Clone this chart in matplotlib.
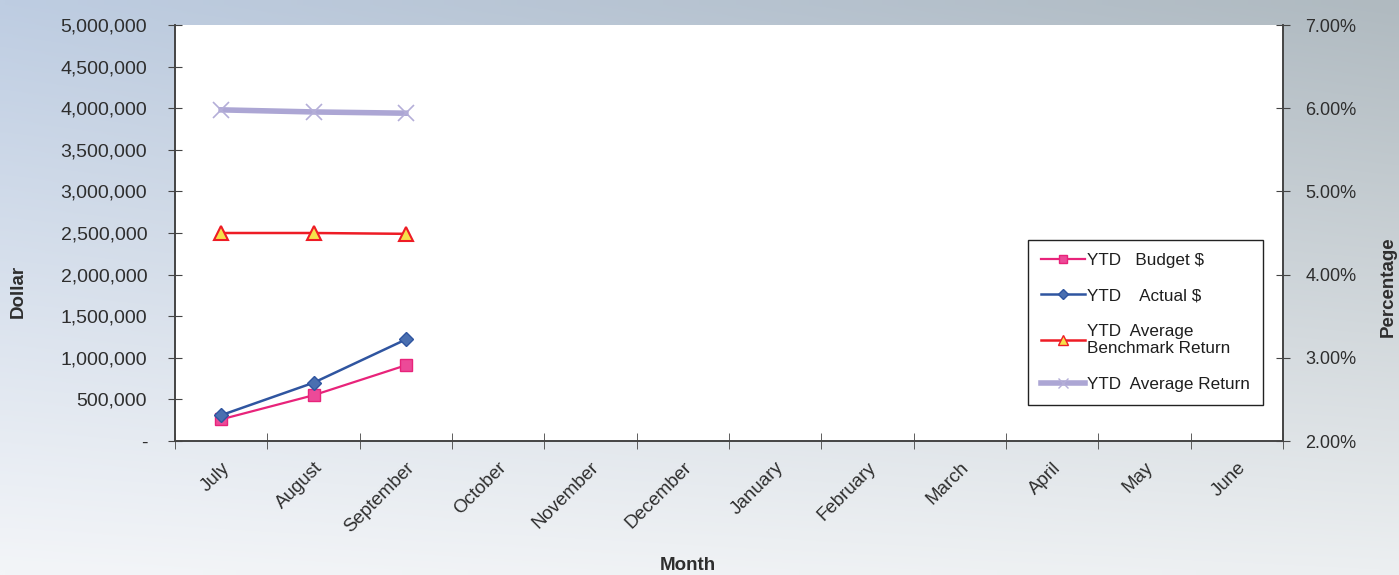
import numpy as np
from matplotlib import pyplot as plt
from matplotlib.lines import Line2D

months = ['July', 'August', 'September', 'October', 'November', 'December',
          'January', 'February', 'March', 'April', 'May', 'June']
ytd_budget = [260000, 550000, 910000]
ytd_actual = [310000, 700000, 1220000]
ytd_benchmark_pct = [4.50, 4.50, 4.49]
ytd_avg_return_pct = [5.98, 5.955, 5.94]

dollar_ticks = [0, 500000, 1000000, 1500000, 2000000, 2500000, 3000000,
                3500000, 4000000, 4500000, 5000000]
pct_ticks = [2, 3, 4, 5, 6, 7]

plt.rcParams['font.family'] = ['Liberation Sans', 'DejaVu Sans']
text_col = '#2e2e2e'
axis_col = '#444444'

fig = plt.figure(figsize=(13.99, 5.75), dpi=100)

# scanned-page style background gradient
bg = fig.add_axes([0, 0, 1, 1], zorder=-10)
h, w = 60, 140
yy, xx = np.mgrid[0:1:h * 1j, 0:1:w * 1j]
tl = np.array([190, 205, 226]) / 255
tr = np.array([176, 186, 192]) / 255
bl = np.array([243, 245, 248]) / 255
br = np.array([236, 239, 241]) / 255
img = (tl * ((1 - xx) * (1 - yy))[..., None] + tr * (xx * (1 - yy))[..., None]
       + bl * ((1 - xx) * yy)[..., None] + br * (xx * yy)[..., None])
bg.imshow(img, aspect='auto', extent=[0, 1, 0, 1], interpolation='bilinear')
bg.axis('off')

ax = fig.add_axes([175 / 1399, 1 - 441 / 575, (1283 - 175) / 1399, (441 - 25) / 575])
ax.set_facecolor('white')
ax2 = ax.twinx()

x_idx = np.arange(len(ytd_budget))
ax.plot(x_idx, ytd_budget, color='#e8237a', lw=1.6, marker='s', ms=8,
        mfc='#ec4a98', mec='#e8237a', zorder=5)
ax.plot(x_idx, ytd_actual, color='#2f55a0', lw=1.8, marker='D', ms=7,
        mfc='#4a6fb0', mec='#2f55a0', zorder=5)
ax2.plot(x_idx, ytd_benchmark_pct, color='#ee1c25', lw=1.8, marker='^', ms=10,
         mfc='#f6e14a', mec='#ee1c25', mew=1.5, zorder=5)
ax2.plot(x_idx, ytd_avg_return_pct, color='#aca6d4', lw=4, marker='x', ms=11,
         mew=1.2, mec='#b4aed8', zorder=4)

ax.set_xlim(-0.5, len(months) - 0.5)
ax.set_ylim(0, 5000000)
ax2.set_ylim(2, 7)

ax.set_yticks(dollar_ticks)
ax.set_yticklabels(['-'] + [f'{v:,}' for v in dollar_ticks[1:]])
ax2.set_yticks(pct_ticks)
ax2.set_yticklabels([f'{v:.2f}%' for v in pct_ticks])

ax.set_xticks(np.arange(len(months)))
ax.set_xticklabels(months, rotation=45, ha='right', rotation_mode='anchor')
ax.set_xticks(np.arange(-0.5, len(months)), minor=True)
ax.tick_params(axis='x', which='major', length=0, pad=13, labelsize=13.5,
               labelcolor=text_col)
ax.tick_params(axis='x', which='minor', direction='inout', length=12,
               color=axis_col)
ax.tick_params(axis='y', direction='inout', length=10, color=axis_col,
               labelsize=14, labelcolor=text_col, pad=15)
ax2.tick_params(axis='y', direction='inout', length=10, color=axis_col,
                labelsize=13, labelcolor=text_col, pad=11)

for a in (ax, ax2):
    a.spines['top'].set_visible(False)
    for s in ('left', 'right', 'bottom'):
        a.spines[s].set_color(axis_col)
        a.spines[s].set_linewidth(1.2)

fig.text(688 / 1399, 1 - 566 / 575, 'Month', fontsize=13.5, fontweight='bold',
         color=text_col, ha='center', va='center')
fig.text(18 / 1399, 1 - 291 / 575, 'Dollar', fontsize=13.5, fontweight='bold',
         color=text_col, ha='center', va='center', rotation=90)
fig.text(1388 / 1399, 1 - 287 / 575, 'Percentage', fontsize=13.5, fontweight='bold',
         color=text_col, ha='center', va='center', rotation=90)

handles = [
    Line2D([], [], color='#e8237a', lw=1.6, marker='s', ms=6, mfc='#ec4a98', mec='#e8237a'),
    Line2D([], [], color='#2f55a0', lw=1.8, marker='D', ms=5, mfc='#4a6fb0', mec='#2f55a0'),
    Line2D([], [], color='#ee1c25', lw=1.8, marker='^', ms=7, mfc='#f6e14a', mec='#ee1c25'),
    Line2D([], [], color='#aca6d4', lw=4, marker='x', ms=7, mec='#b4aed8'),
]
labels = ['YTD   Budget $', 'YTD    Actual $', 'YTD  Average\nBenchmark Return',
          'YTD  Average Return']
leg = fig.legend(handles, labels, loc='upper left',
                 bbox_to_anchor=(1028 / 1399, 1 - 240 / 575), borderaxespad=0,
                 fancybox=False, edgecolor='#222222', facecolor='white',
                 framealpha=1, fontsize=12.3, handlelength=2.6, handletextpad=0.1,
                 labelspacing=1.2, borderpad=0.75)
leg.get_frame().set_linewidth(1.0)
for t in leg.get_texts():
    t.set_color('#1e1e1e')

fig.savefig('out.png', dpi=100)
